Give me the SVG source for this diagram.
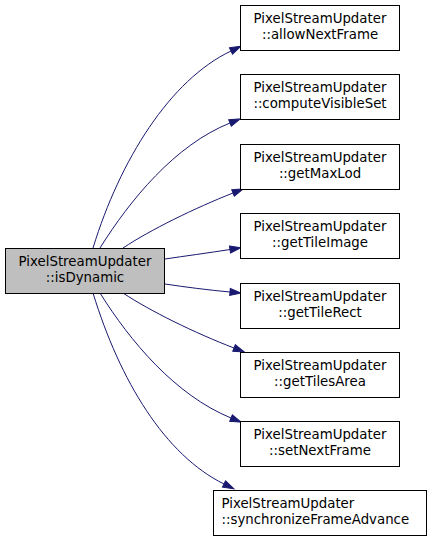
<svg xmlns="http://www.w3.org/2000/svg" width="432" height="541" viewBox="0 0 432 541">
<style>
.box{fill:#ffffff;stroke:#000000;stroke-width:1}
.src{fill:#bfbfbf;stroke:#000000;stroke-width:1}
text{font-family:"DejaVu Sans",sans-serif;font-size:13.33px;fill:#000000}
.c{text-anchor:middle}
.edge{fill:none;stroke:#191970;stroke-width:1}
</style>
<defs>
<marker id="ah" markerUnits="userSpaceOnUse" markerWidth="12" markerHeight="10" refX="0" refY="5" orient="auto" overflow="visible">
<path d="M0,1.5 L11,5 L0,8.5 Z" fill="#191970" stroke="#191970" stroke-width="1"/>
</marker>
</defs>
<rect width="432" height="541" fill="#ffffff"/>
<g id="edges">
<path class="edge" marker-end="url(#ah)" d="M93,248 C120,160 170,80 231,51"/>
<path class="edge" marker-end="url(#ah)" d="M100,248 C130,200 175,145 230,123"/>
<path class="edge" marker-end="url(#ah)" d="M123,248 C150,230 195,208 233,193"/>
<path class="edge" marker-end="url(#ah)" d="M165,259 C185,256 208,253 230,249.5"/>
<path class="edge" marker-end="url(#ah)" d="M165,284 C185,287 208,290 230,292"/>
<path class="edge" marker-end="url(#ah)" d="M123,293 C150,311 195,333 234,348"/>
<path class="edge" marker-end="url(#ah)" d="M100,293 C130,341 175,395 231,418"/>
<path class="edge" marker-end="url(#ah)" d="M93,293 C120,381 165,455 224,484"/>
</g>
<g id="isDynamic">
<rect class="src" x="5.5" y="248.5" width="159" height="45"/>
<text class="c" x="85" y="265.5">PixelStreamUpdater</text>
<text class="c" x="85" y="282">::isDynamic</text>
</g>
<g id="allowNextFrame">
<rect class="box" x="240.5" y="5.5" width="159" height="45"/>
<text class="c" x="320" y="22.5">PixelStreamUpdater</text>
<text class="c" x="320" y="39">::allowNextFrame</text>
</g>
<g id="computeVisibleSet">
<rect class="box" x="240.5" y="74.5" width="159" height="45"/>
<text class="c" x="320" y="91.5">PixelStreamUpdater</text>
<text class="c" x="320" y="108">::computeVisibleSet</text>
</g>
<g id="getMaxLod">
<rect class="box" x="240.5" y="144.5" width="159" height="45"/>
<text class="c" x="320" y="161.5">PixelStreamUpdater</text>
<text class="c" x="320" y="178">::getMaxLod</text>
</g>
<g id="getTileImage">
<rect class="box" x="240.5" y="213.5" width="159" height="45"/>
<text class="c" x="320" y="230.5">PixelStreamUpdater</text>
<text class="c" x="320" y="247">::getTileImage</text>
</g>
<g id="getTileRect">
<rect class="box" x="240.5" y="283.5" width="159" height="45"/>
<text class="c" x="320" y="300.5">PixelStreamUpdater</text>
<text class="c" x="320" y="317">::getTileRect</text>
</g>
<g id="getTilesArea">
<rect class="box" x="240.5" y="352.5" width="159" height="45"/>
<text class="c" x="320" y="369.5">PixelStreamUpdater</text>
<text class="c" x="320" y="386">::getTilesArea</text>
</g>
<g id="setNextFrame">
<rect class="box" x="240.5" y="421.5" width="159" height="45"/>
<text class="c" x="320" y="438.5">PixelStreamUpdater</text>
<text class="c" x="320" y="455">::setNextFrame</text>
</g>
<g id="synchronizeFrameAdvance">
<rect class="box" x="213.5" y="490.5" width="213" height="45"/>
<text x="221.5" y="507.5">PixelStreamUpdater</text>
<text x="221.5" y="524">::synchronizeFrameAdvance</text>
</g>
</svg>
